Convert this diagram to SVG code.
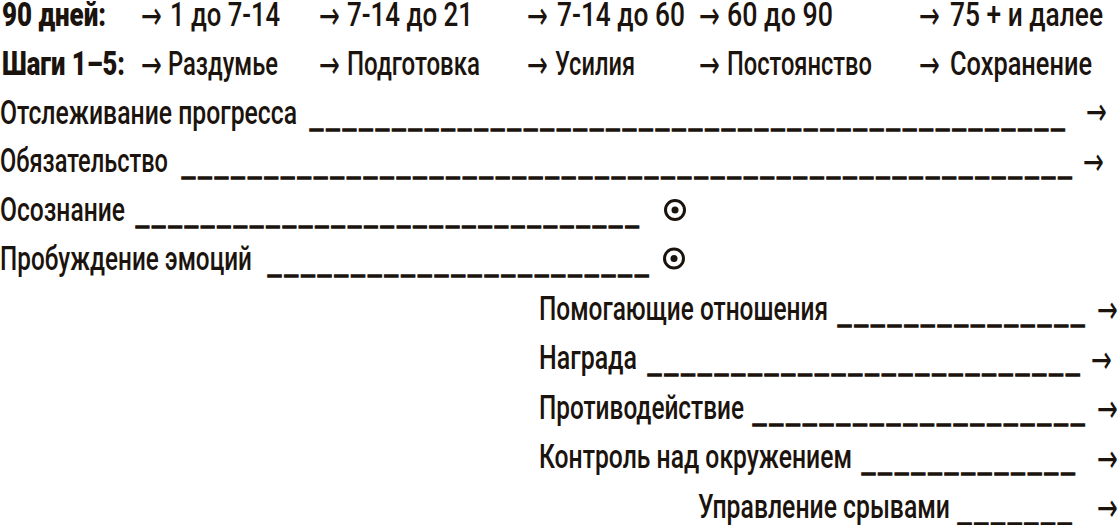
<svg xmlns="http://www.w3.org/2000/svg" width="1119" height="525" viewBox="0 0 1119 525">
<style>
text{font-family:Roboto,"Liberation Sans",sans-serif;font-size:33px;font-weight:500;fill:#1b130d}
.b{font-weight:900}
.ar{font-family:"DejaVu Sans",sans-serif;font-size:25px;font-weight:400}
.u{font-family:"Liberation Sans",sans-serif;font-weight:400;letter-spacing:5px;stroke:#1b130d;stroke-width:1.3}
.ring{fill:none;stroke:#1b130d;stroke-width:3}
.dot{fill:#1b130d}
</style>
<rect width="1119" height="525" fill="#ffffff"/>
<g id="days">
<text class="b" x="2" y="26" textLength="104" lengthAdjust="spacingAndGlyphs">90 дней:</text>
<text class="ar" transform="translate(141,29) scale(1,1.55)">→</text>
<text x="170" y="26" textLength="110" lengthAdjust="spacingAndGlyphs">1 до 7-14</text>
<text class="ar" transform="translate(319,29) scale(1,1.55)">→</text>
<text x="347" y="26" textLength="126" lengthAdjust="spacingAndGlyphs">7-14 до 21</text>
<text class="ar" transform="translate(527,29) scale(1,1.55)">→</text>
<text x="557" y="26" textLength="128" lengthAdjust="spacingAndGlyphs">7-14 до 60</text>
<text class="ar" transform="translate(699,29) scale(1,1.55)">→</text>
<text x="727" y="26" textLength="106" lengthAdjust="spacingAndGlyphs">60 до 90</text>
<text class="ar" transform="translate(919,29) scale(1,1.55)">→</text>
<text x="950" y="26" textLength="153" lengthAdjust="spacingAndGlyphs">75 + и далее</text>
</g>
<g id="steps">
<text class="b" x="2" y="74.5" textLength="123" lengthAdjust="spacingAndGlyphs">Шаги 1–5:</text>
<text class="ar" transform="translate(141,77.5) scale(1,1.55)">→</text>
<text x="168" y="74.5" textLength="110" lengthAdjust="spacingAndGlyphs">Раздумье</text>
<text class="ar" transform="translate(319,77.5) scale(1,1.55)">→</text>
<text x="347" y="74.5" textLength="133" lengthAdjust="spacingAndGlyphs">Подготовка</text>
<text class="ar" transform="translate(527,77.5) scale(1,1.55)">→</text>
<text x="555" y="74.5" textLength="80" lengthAdjust="spacingAndGlyphs">Усилия</text>
<text class="ar" transform="translate(699,77.5) scale(1,1.55)">→</text>
<text x="727" y="74.5" textLength="145" lengthAdjust="spacingAndGlyphs">Постоянство</text>
<text class="ar" transform="translate(919,77.5) scale(1,1.55)">→</text>
<text x="950" y="74.5" textLength="142" lengthAdjust="spacingAndGlyphs">Сохранение</text>
</g>
<g id="tracking">
<text x="0" y="123.5" textLength="297" lengthAdjust="spacingAndGlyphs">Отслеживание прогресса</text>
<text class="u" x="310" y="123.5" textLength="758" lengthAdjust="spacingAndGlyphs">______________________________________________</text>
<text class="ar" transform="translate(1086,125) scale(1,1.55)">→</text>
</g>
<g id="commitment">
<text x="0" y="172" textLength="168" lengthAdjust="spacingAndGlyphs">Обязательство</text>
<text class="u" x="182" y="172" textLength="893" lengthAdjust="spacingAndGlyphs">______________________________________________________</text>
<text class="ar" transform="translate(1083,174.5) scale(1,1.55)">→</text>
</g>
<g id="awareness">
<text x="0" y="221" textLength="125" lengthAdjust="spacingAndGlyphs">Осознание</text>
<text class="u" x="136" y="221" textLength="506" lengthAdjust="spacingAndGlyphs">_______________________________</text>
<circle class="ring" cx="675" cy="210" r="9.5"/>
<circle class="dot" cx="675" cy="210" r="3.5"/>
</g>
<g id="emotions">
<text x="0" y="270" textLength="252" lengthAdjust="spacingAndGlyphs">Пробуждение эмоций</text>
<text class="u" x="268" y="270" textLength="384" lengthAdjust="spacingAndGlyphs">_______________________</text>
<circle class="ring" cx="674" cy="258.5" r="9.5"/>
<circle class="dot" cx="674" cy="258.5" r="3.5"/>
</g>
<g id="helping">
<text x="539" y="319.5" textLength="289" lengthAdjust="spacingAndGlyphs">Помогающие отношения</text>
<text class="u" x="838" y="319.5" textLength="250" lengthAdjust="spacingAndGlyphs">_______________</text>
<text class="ar" transform="translate(1097,323) scale(1,1.55)">→</text>
</g>
<g id="reward">
<text x="539" y="369" textLength="98" lengthAdjust="spacingAndGlyphs">Награда</text>
<text class="u" x="648" y="369" textLength="435" lengthAdjust="spacingAndGlyphs">__________________________</text>
<text class="ar" transform="translate(1091,372.5) scale(1,1.55)">→</text>
</g>
<g id="counter">
<text x="539" y="418.5" textLength="205" lengthAdjust="spacingAndGlyphs">Противодействие</text>
<text class="u" x="753" y="418.5" textLength="335" lengthAdjust="spacingAndGlyphs">____________________</text>
<text class="ar" transform="translate(1097,422) scale(1,1.55)">→</text>
</g>
<g id="environment">
<text x="539" y="468" textLength="313" lengthAdjust="spacingAndGlyphs">Контроль над окружением</text>
<text class="u" x="862" y="468" textLength="216" lengthAdjust="spacingAndGlyphs">_____________</text>
<text class="ar" transform="translate(1097,471.5) scale(1,1.55)">→</text>
</g>
<g id="relapse">
<text x="698" y="517.5" textLength="252" lengthAdjust="spacingAndGlyphs">Управление срывами</text>
<text class="u" x="958" y="517.5" textLength="117" lengthAdjust="spacingAndGlyphs">_______</text>
<text class="ar" transform="translate(1097,521) scale(1,1.55)">→</text>
</g>
</svg>
